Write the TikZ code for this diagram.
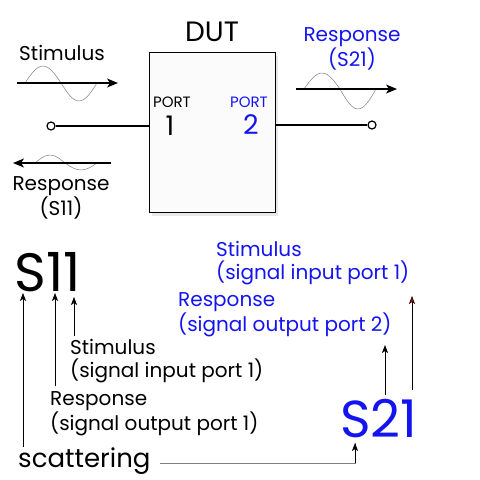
\documentclass[tikz,border=0pt]{standalone}
\usepackage{fontspec}
\setmainfont{Poppins}
\usetikzlibrary{arrows.meta,shadows}
\definecolor{tblue}{RGB}{20,20,240}
\tikzset{
  sig/.style={line width=1.6pt,-{Stealth[length=11pt,width=9pt,inset=3pt]}},
  wave/.style={gray,line width=0.5pt},
  lead/.style={line width=1.4pt},
  term/.style={circle,draw,line width=1.2pt,fill=white,inner sep=0pt,minimum size=8pt},
  ptr/.style={line width=0.6pt,-{Stealth[length=8pt,width=6pt,inset=2pt]}},
  lbl/.style={font=\fontsize{20}{22.5}\selectfont,inner sep=0pt,align=left},
  lblc/.style={font=\fontsize{20}{22}\selectfont,inner sep=0pt,align=center},
}
\begin{document}
\begin{tikzpicture}[x=1pt,y=-1pt]
\useasboundingbox (0,0) rectangle (480,480);
% DUT box
\node[draw,line width=0.8pt,fill=gray!3,minimum width=126pt,minimum height=160pt,inner sep=0pt,
  drop shadow={opacity=0.18,shadow xshift=3pt,shadow yshift=-4pt}] (dut) at (212,132) {};
\node[font=\fontsize{28}{32}\selectfont,inner sep=0pt] (dutl) at (212,32) {DUT};
\node[font=\fontsize{15}{17}\selectfont,inner sep=0pt] (p1) at (172,102) {PORT};
\node[font=\fontsize{27}{30}\selectfont,inner sep=0pt] (n1) at (170,126) {1};
\node[font=\fontsize{15}{17}\selectfont,inner sep=0pt,text=tblue] (p2) at (249,102) {PORT};
\node[font=\fontsize{27}{30}\selectfont,inner sep=0pt,text=tblue] (n2) at (251,125) {2};
% terminals
\node[term] (t1) at (51,126) {};
\node[term] (t2) at (372,125) {};
\draw[lead] (t1) -- (dut.west |- t1);
\draw[lead] (dut.east |- t2) -- (t2);
% stimulus
\node[lblc] (stim) at (62,53) {Stimulus};
\coordinate (sa) at (17,83); \coordinate (sb) at (118,83);
\draw[wave] (25,83) sin (43,66) cos (61,83) sin (79,101) cos (97,83);
\draw[sig] (sa) -- (sb);
% response S21
\node[lblc,text=tblue] (r21) at (352,49) {Response\\(S21)};
\coordinate (ra) at (296,89); \coordinate (rb) at (397,89);
\draw[wave] (304,89) sin (322,73) cos (340,89) sin (358,109) cos (376,89);
\draw[sig] (ra) -- (rb);
% response S11
\coordinate (la) at (111,163); \coordinate (lb) at (13,163);
\draw[wave] (35,163) sin (50,155) cos (65,163) sin (81,170) cos (97,163);
\draw[sig] (la) -- (lb);
\node[lblc] (r11) at (61,198) {Response\\(S11)};
% S11 block
\node[font=\fontsize{54}{60}\selectfont,inner sep=0pt] (s11) at (48,272) {S11};
\node[lbl,anchor=west] (st1) at (70,361) {Stimulus\\(signal input port 1)};
\node[lbl,anchor=west] (rs1) at (50,414) {Response\\(signal output port 1)};
\node[font=\fontsize{26}{30}\selectfont,inner sep=0pt,anchor=west] (sc) at (18,461) {scattering};
\coordinate (a1) at (23,293); \coordinate (a1b) at (23,447);
\coordinate (a2) at (55,293); \coordinate (a2b) at (55,386);
\coordinate (a3) at (74,297); \coordinate (a3b) at (74,336);
\draw[ptr] (a1b) -- (a1);
\draw[ptr] (a2b) -- (a2);
\draw[ptr] (a3b) -- (a3);
% S21 block
\node[font=\fontsize{52}{58}\selectfont,inner sep=0pt,text=tblue] (s21) at (379,419) {S21};
\node[lbl,anchor=west,text=tblue] (st2) at (216,263) {Stimulus\\(signal input port 1)};
\node[lbl,anchor=west,text=tblue] (rs2) at (178,315) {Response\\(signal output port 2)};
\coordinate (b1) at (385,345); \coordinate (b1b) at (385,395);
\coordinate (b2) at (412,296); \coordinate (b2b) at (412,390);
\draw[ptr] (b1b) -- (b1);
\draw[line width=0.6pt,-{Stealth[length=8pt,width=6pt,inset=2pt,fill=red!85!black]}] (b2b) -- (b2);
\coordinate (c1) at (160,463); \coordinate (c2) at (355,463); \coordinate (c3) at (355,443);
\draw[gray,line width=1pt] (c1) -- (c2) -- (c3);
\draw[ptr] (c2) -- (c3);
\end{tikzpicture}
\end{document}
